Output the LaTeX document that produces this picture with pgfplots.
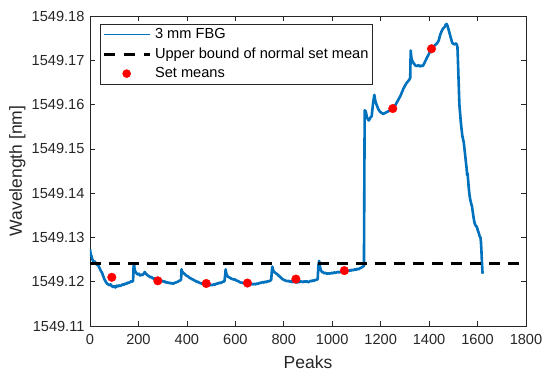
\documentclass[border=0pt]{standalone}
\usepackage{fontspec}
\setmainfont{Liberation Sans}
\usepackage{pgfplots}
\usepackage{pgfplotstable}
\pgfplotsset{compat=1.18}
\definecolor{mblue}{RGB}{0,114,189}
\definecolor{axgray}{RGB}{38,38,38}
% wavelengths all start with 1549: strip it before pgfplots parses them (keeps precision)
\def\stripwl1549#1\relax{0#1}
\pgfplotstableread{
x y
0 1549.1273
3 1549.1262
6 1549.1258
10 1549.1250
15 1549.1245
20 1549.1246
25 1549.1240
30 1549.1238
35 1549.1236
40 1549.1230
45 1549.1224
50 1549.1220
55 1549.1212
60 1549.1205
65 1549.1200
70 1549.1196
75 1549.1194
80 1549.1192
85 1549.1194
90 1549.1190
95 1549.1188
100 1549.1190
105 1549.1187
110 1549.1191
115 1549.1189
120 1549.1192
125 1549.1190
130 1549.1192
135 1549.1194
140 1549.1193
145 1549.1196
150 1549.1195
155 1549.1198
160 1549.1197
165 1549.1199
170 1549.1201
175 1549.1200
178 1549.1203
180 1549.1235
182 1549.1242
184 1549.1228
188 1549.1222
192 1549.1219
197 1549.1216
202 1549.1218
207 1549.1214
212 1549.1216
217 1549.1215
222 1549.1218
226 1549.1222
229 1549.1219
233 1549.1217
238 1549.1214
243 1549.1213
248 1549.1210
253 1549.1211
258 1549.1208
263 1549.1207
268 1549.1208
273 1549.1205
278 1549.1206
283 1549.1203
288 1549.1204
293 1549.1201
298 1549.1202
303 1549.1200
308 1549.1201
313 1549.1198
318 1549.1199
323 1549.1197
328 1549.1198
333 1549.1196
338 1549.1197
343 1549.1195
348 1549.1197
353 1549.1198
358 1549.1199
363 1549.1200
368 1549.1202
373 1549.1203
376 1549.1205
378 1549.1228
380 1549.1224
384 1549.1220
390 1549.1218
395 1549.1215
400 1549.1213
405 1549.1212
410 1549.1209
415 1549.1208
420 1549.1206
425 1549.1205
430 1549.1203
435 1549.1202
440 1549.1200
445 1549.1200
450 1549.1198
455 1549.1197
460 1549.1196
465 1549.1195
470 1549.1195
475 1549.1193
480 1549.1194
485 1549.1192
490 1549.1193
495 1549.1192
500 1549.1193
505 1549.1192
510 1549.1194
515 1549.1193
520 1549.1195
525 1549.1196
530 1549.1196
535 1549.1198
540 1549.1197
545 1549.1199
550 1549.1200
555 1549.1201
558 1549.1215
560 1549.1228
563 1549.1218
568 1549.1212
573 1549.1210
578 1549.1209
583 1549.1207
588 1549.1206
593 1549.1205
598 1549.1205
603 1549.1203
608 1549.1202
613 1549.1201
618 1549.1199
623 1549.1198
628 1549.1198
633 1549.1197
638 1549.1196
643 1549.1196
648 1549.1195
653 1549.1194
658 1549.1195
663 1549.1194
668 1549.1195
673 1549.1194
678 1549.1195
683 1549.1194
688 1549.1196
693 1549.1195
698 1549.1197
703 1549.1197
708 1549.1198
713 1549.1199
718 1549.1198
723 1549.1200
728 1549.1199
733 1549.1201
738 1549.1201
743 1549.1202
748 1549.1204
751 1549.1225
753 1549.1234
756 1549.1226
760 1549.1222
765 1549.1220
770 1549.1218
775 1549.1216
780 1549.1213
785 1549.1211
790 1549.1208
795 1549.1206
800 1549.1204
805 1549.1203
810 1549.1202
815 1549.1201
820 1549.1202
825 1549.1200
830 1549.1201
835 1549.1199
840 1549.1200
845 1549.1199
850 1549.1200
855 1549.1198
860 1549.1200
865 1549.1199
870 1549.1201
875 1549.1200
880 1549.1199
885 1549.1201
890 1549.1200
895 1549.1201
900 1549.1199
905 1549.1200
910 1549.1202
915 1549.1201
920 1549.1203
925 1549.1202
930 1549.1204
935 1549.1204
940 1549.1206
943 1549.1238
946 1549.1247
949 1549.1235
953 1549.1226
958 1549.1222
963 1549.1221
968 1549.1219
973 1549.1220
978 1549.1218
983 1549.1219
988 1549.1218
993 1549.1219
998 1549.1220
1003 1549.1219
1008 1549.1221
1013 1549.1220
1018 1549.1221
1023 1549.1222
1028 1549.1221
1033 1549.1222
1038 1549.1223
1043 1549.1222
1048 1549.1224
1053 1549.1223
1058 1549.1224
1063 1549.1225
1068 1549.1224
1073 1549.1226
1078 1549.1225
1083 1549.1227
1088 1549.1226
1093 1549.1228
1098 1549.1227
1103 1549.1229
1108 1549.1228
1113 1549.1230
1118 1549.1231
1123 1549.1233
1127 1549.1234
1131 1549.1236
1134 1549.1587
1138 1549.1585
1144 1549.1570
1151 1549.1564
1157 1549.1570
1163 1549.1574
1169 1549.1605
1174 1549.1622
1178 1549.1608
1183 1549.1600
1190 1549.1590
1197 1549.1584
1204 1549.1581
1211 1549.1579
1218 1549.1581
1225 1549.1583
1232 1549.1585
1240 1549.1587
1246 1549.1589
1252 1549.1592
1258 1549.1596
1264 1549.1602
1270 1549.1608
1276 1549.1614
1282 1549.1620
1288 1549.1628
1294 1549.1636
1300 1549.1642
1306 1549.1648
1312 1549.1652
1318 1549.1656
1322 1549.1660
1324 1549.1722
1327 1549.1705
1332 1549.1697
1338 1549.1692
1344 1549.1688
1350 1549.1687
1356 1549.1689
1362 1549.1686
1368 1549.1688
1374 1549.1687
1380 1549.1693
1386 1549.1700
1392 1549.1707
1398 1549.1713
1404 1549.1720
1410 1549.1726
1416 1549.1730
1422 1549.1733
1428 1549.1736
1434 1549.1739
1440 1549.1745
1446 1549.1758
1452 1549.1766
1458 1549.1772
1464 1549.1775
1468 1549.1780
1472 1549.1782
1476 1549.1778
1480 1549.1770
1485 1549.1760
1490 1549.1750
1495 1549.1740
1500 1549.1737
1505 1549.1736
1510 1549.1738
1514 1549.1736
1517 1549.1730
1519 1549.1700
1522 1549.1650
1525 1549.1600
1528 1549.1580
1531 1549.1560
1534 1549.1545
1537 1549.1530
1540 1549.1522
1543 1549.1515
1546 1549.1500
1549 1549.1485
1552 1549.1470
1555 1549.1455
1557 1549.1440
1559 1549.1445
1561 1549.1430
1564 1549.1410
1567 1549.1395
1570 1549.1385
1573 1549.1378
1577 1549.1370
1581 1549.1355
1585 1549.1340
1589 1549.1330
1593 1549.1326
1597 1549.1324
1601 1549.1316
1605 1549.1310
1609 1549.1302
1612 1549.1300
1614 1549.1290
1616 1549.1270
1618 1549.1245
1620 1549.1225
1621 1549.1218
}\fbgdata
\pgfplotstableread{
x y
0 1549.1242
1800 1549.1242
}\bounddata
\pgfplotstableread{
x y
90 1549.1210
280 1549.1202
480 1549.1196
650 1549.1197
850 1549.1206
1050 1549.1225
1250 1549.1591
1410 1549.1726
}\meandata
\begin{document}
\begin{tikzpicture}
\begin{axis}[
  at={(0,0)}, anchor=south west,
  scale only axis, width=436pt, height=310pt,
  xmin=0, xmax=1800, ymin=1549.11, ymax=1549.18,
  y coord trafo/.code={\edef\wltmp{#1}\edef\pgfmathresult{\expandafter\stripwl\wltmp\relax}},
  xtick={0,200,...,1800},
  ytick={1549.11,1549.12,1549.13,1549.14,1549.15,1549.16,1549.17,1549.18},
  yticklabels={1549.11,1549.12,1549.13,1549.14,1549.15,1549.16,1549.17,1549.18},
  /pgf/number format/assume math mode=true,
  /pgf/number format/1000 sep={},
  tick align=inside, major tick length=5pt,
  axis line style={draw=axgray, line width=0.6pt},
  every tick/.style={draw=axgray, line width=0.6pt},
  tick label style={font=\fontsize{14.6}{17}\selectfont, text=axgray},
  yticklabel style={xshift=-2pt},
  xticklabel style={yshift=-5pt},
  every axis x label/.style={at={(axis description cs:0.5,-0.0839)}, anchor=north,
    font=\fontsize{17.5}{20}\selectfont, text=axgray},
  every axis y label/.style={at={(axis description cs:-0.1399,0.5)}, rotate=90, anchor=south,
    font=\fontsize{17.5}{20}\selectfont, text=axgray},
  xlabel={Peaks},
  ylabel={Wavelength [nm]},
  legend cell align=left,
  legend style={at={(axis description cs:0.023,0.974)}, anchor=north west,
    draw=axgray, line width=0.5pt, fill=white,
    font=\fontsize{14.6}{17}\selectfont, text=black,
    inner xsep=2pt, inner ysep=2.5pt, row sep=3.6pt,
    /tikz/every odd column/.append style={column sep=2pt}},
]
\addplot[color=mblue, line width=2.6pt, line join=round,
  legend image code/.code={\draw[mblue, line width=1.3pt] (0pt,0pt) -- (46pt,0pt);}]
  table[x=x, y=y] {\fbgdata};
\addlegendentry{3 mm FBG}
\addplot[black, line width=2.8pt, dash pattern=on 11pt off 8pt,
  legend image code/.code={\draw[black, line width=2.8pt, dash pattern=on 11pt off 9pt] (0pt,0pt) -- (46pt,0pt);}]
  table[x=x, y=y] {\bounddata};
\addlegendentry{Upper bound of normal set mean}
\addplot[only marks, mark=*, mark size=4.3pt, color=red, mark options={fill=red, draw=red},
  legend image code/.code={\draw[red, fill=red] (23pt,0pt) circle (4pt);}]
  table[x=x, y=y] {\meandata};
\addlegendentry{Set means}
\end{axis}
\pgfresetboundingbox
\path (-90pt,-53pt) rectangle (460pt,326pt);
\end{tikzpicture}
\end{document}
